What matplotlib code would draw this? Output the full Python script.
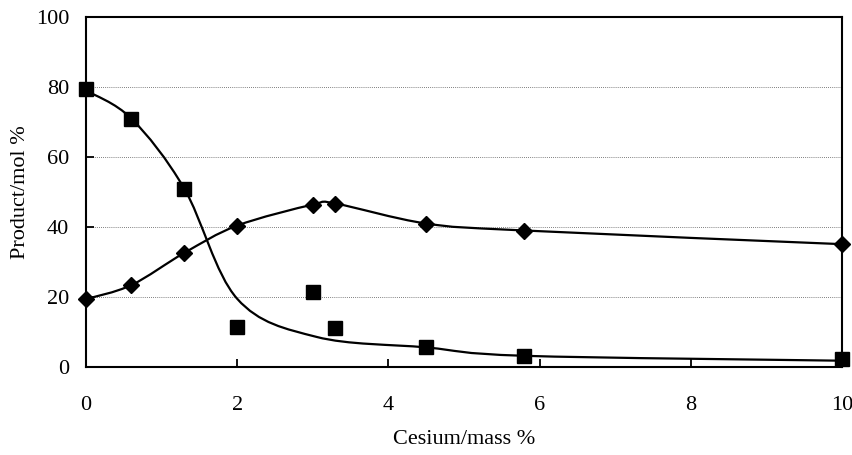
import matplotlib.pyplot as plt
import numpy as np
from matplotlib.path import Path
from matplotlib.patches import PathPatch

# ==========================================
# Data
# ==========================================
cesium = [0, 0.6, 1.3, 2, 3, 3.3, 4.5, 5.8, 10]

# squares (measured)
prod_a = [79.3, 71.0, 51.0, 11.3, 21.3, 11.1, 5.7, 3.1, 2.2]
# diamonds (measured)
prod_b = [19.4, 23.4, 32.6, 40.4, 46.4, 46.7, 41.0, 39.0, 35.1]

# trend line drawn through the squares
trend_x = [0, 0.6, 1.3, 2, 3.05, 4.5, 5.8, 10]
trend_a = [79.0, 71.0, 51.0, 19.5, 8.6, 5.6, 3.2, 1.8]


def smooth_path(xs, ys):
    # excel-style smoothed line: cubic bezier between successive points
    pts = np.column_stack([xs, ys]).astype(float)
    n = len(pts)
    verts = [pts[0]]
    codes = [Path.MOVETO]
    for i in range(n - 1):
        p0 = pts[i - 1] if i > 0 else pts[i]
        p1 = pts[i]
        p2 = pts[i + 1]
        p3 = pts[i + 2] if i + 2 < n else pts[i + 1]
        c1 = p1 + (p2 - p0) / 6
        c2 = p2 - (p3 - p1) / 6
        verts += [c1, c2, p2]
        codes += [Path.CURVE4] * 3
    return Path(verts, codes)


plt.rcParams['font.family'] = 'Liberation Serif'

fig = plt.figure(figsize=(8.53, 4.55), dpi=100)
ax = fig.add_axes([0.1008, 0.1934, 0.8862, 0.7692])

ax.add_patch(PathPatch(smooth_path(trend_x, trend_a), fill=False, lw=1.6, color='black', zorder=3))
ax.add_patch(PathPatch(smooth_path(cesium, prod_b), fill=False, lw=1.6, color='black', zorder=3))

ax.plot(cesium, prod_a, 's', color='black', markersize=9.5, clip_on=False, zorder=4)
ax.plot(cesium, prod_b, 'D', color='black', markersize=8, clip_on=False, zorder=4)

ax.set_xlim(0, 10)
ax.set_ylim(0, 100)
ax.set_xticks([0, 2, 4, 6, 8, 10])
ax.set_yticks([0, 20, 40, 60, 80, 100])
ax.tick_params(direction='in', length=6, width=1.3, labelsize=16, pad=12)
ax.tick_params(axis='x', pad=21)

for v in [20, 40, 60, 80]:
    ax.axhline(v, color='#555555', linestyle=(0, (1, 1.5)), linewidth=0.6, zorder=1)

for s in ax.spines.values():
    s.set_linewidth(1.5)

ax.set_xlabel("Cesium/mass %", fontsize=16, labelpad=11)
ax.set_ylabel("Product/mol %", fontsize=16, labelpad=4)

plt.savefig('out.png', dpi=100)
